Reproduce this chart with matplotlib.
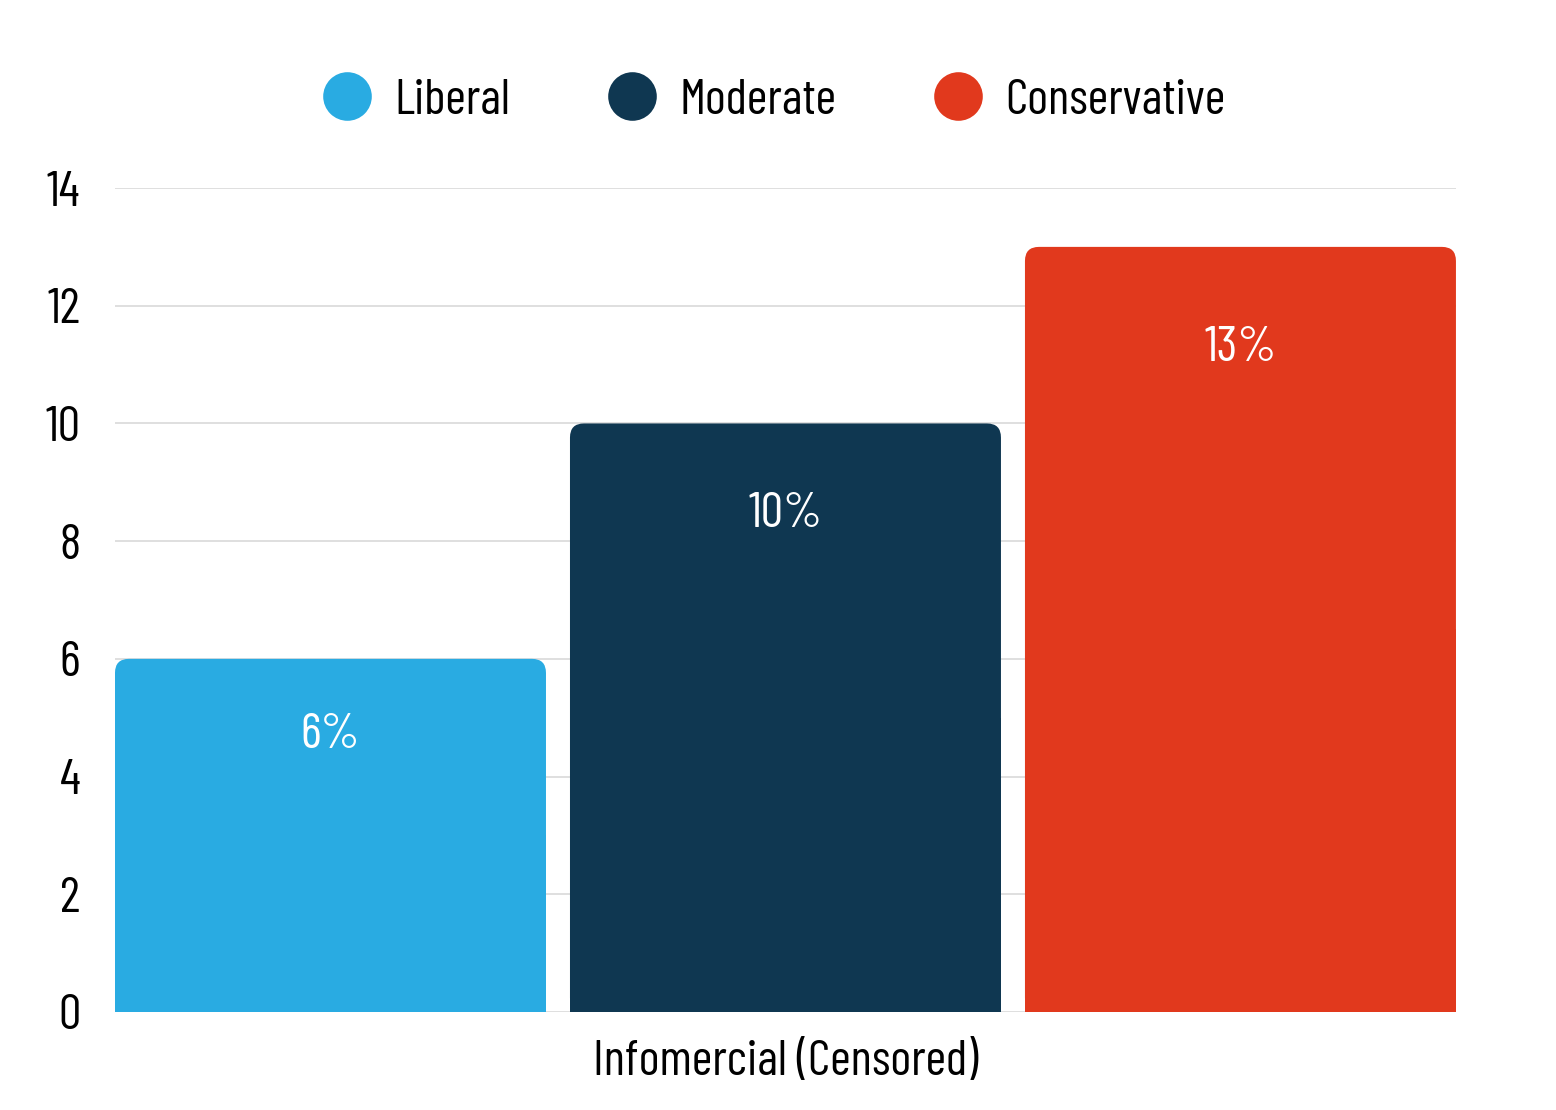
import matplotlib.pyplot as plt
from matplotlib.patches import FancyBboxPatch, Rectangle
from matplotlib.lines import Line2D

plt.rcParams['font.family'] = ['Barlow Condensed', 'Barlow Semi Condensed', 'DejaVu Sans']

# Data
groups = ['Liberal', 'Moderate', 'Conservative']
values = [6, 10, 13]
labels = ['6%', '10%', '13%']
colors = ['#29ABE2', '#0F3751', '#E1391D']
category = 'Infomercial (Censored)'
yticks = [0, 2, 4, 6, 8, 10, 12, 14]

fig = plt.figure(figsize=(15.56, 11.1), dpi=100)
ax = fig.add_axes([0.0739, 0.0883, 0.8618, 0.7423])

width = 431 / 455
pos = list(range(len(groups)))
ax.set_xlim(pos[0] - width / 2, pos[-1] + width / 2)
ax.set_ylim(0, 14)

bars = ax.bar(pos, values, width=width, color=colors, visible=False)

# rounded top corners
xpp = (pos[-1] - pos[0] + width) / 1341
ypp = 14 / 824
r = 14 * xpp
for b, c in zip(bars, colors):
    x0, w, h = b.get_x(), b.get_width(), b.get_height()
    ax.add_patch(FancyBboxPatch((x0, 0), w, h,
                                boxstyle=f'round,pad=0,rounding_size={r}',
                                mutation_aspect=ypp / xpp,
                                facecolor=c, edgecolor='none', zorder=3))
    ax.add_patch(Rectangle((x0, 0), w, h / 2, facecolor=c,
                           edgecolor='none', zorder=3))

# value labels inside the bars
for p, v, t in zip(pos, values, labels):
    ax.annotate(t, (p, v * 0.94), xytext=(0, -40), textcoords='offset points',
                ha='center', va='center', color='white', fontsize=36,
                zorder=4)

ax.set_yticks(yticks)
ax.set_yticklabels([str(t) for t in yticks], fontsize=36)
ax.set_xticks([])
ax.grid(axis='y', color='#d9d9d9', linewidth=1.2, zorder=0)
ax.set_axisbelow(True)
for s in ax.spines.values():
    s.set_visible(False)
ax.tick_params(axis='y', length=0, pad=25)
ax.set_xlabel(category, fontsize=36, labelpad=20)

handles = [Line2D([], [], marker='o', linestyle='none', markersize=35,
                  markerfacecolor=c, markeredgecolor='none') for c in colors]
fig.legend(handles, groups, loc='center', bbox_to_anchor=(0.4974, 0.909),
           ncol=3, frameon=False, fontsize=36, handlelength=1.0,
           handletextpad=0.44, columnspacing=1.94)

fig.savefig('out.png', dpi=100)
